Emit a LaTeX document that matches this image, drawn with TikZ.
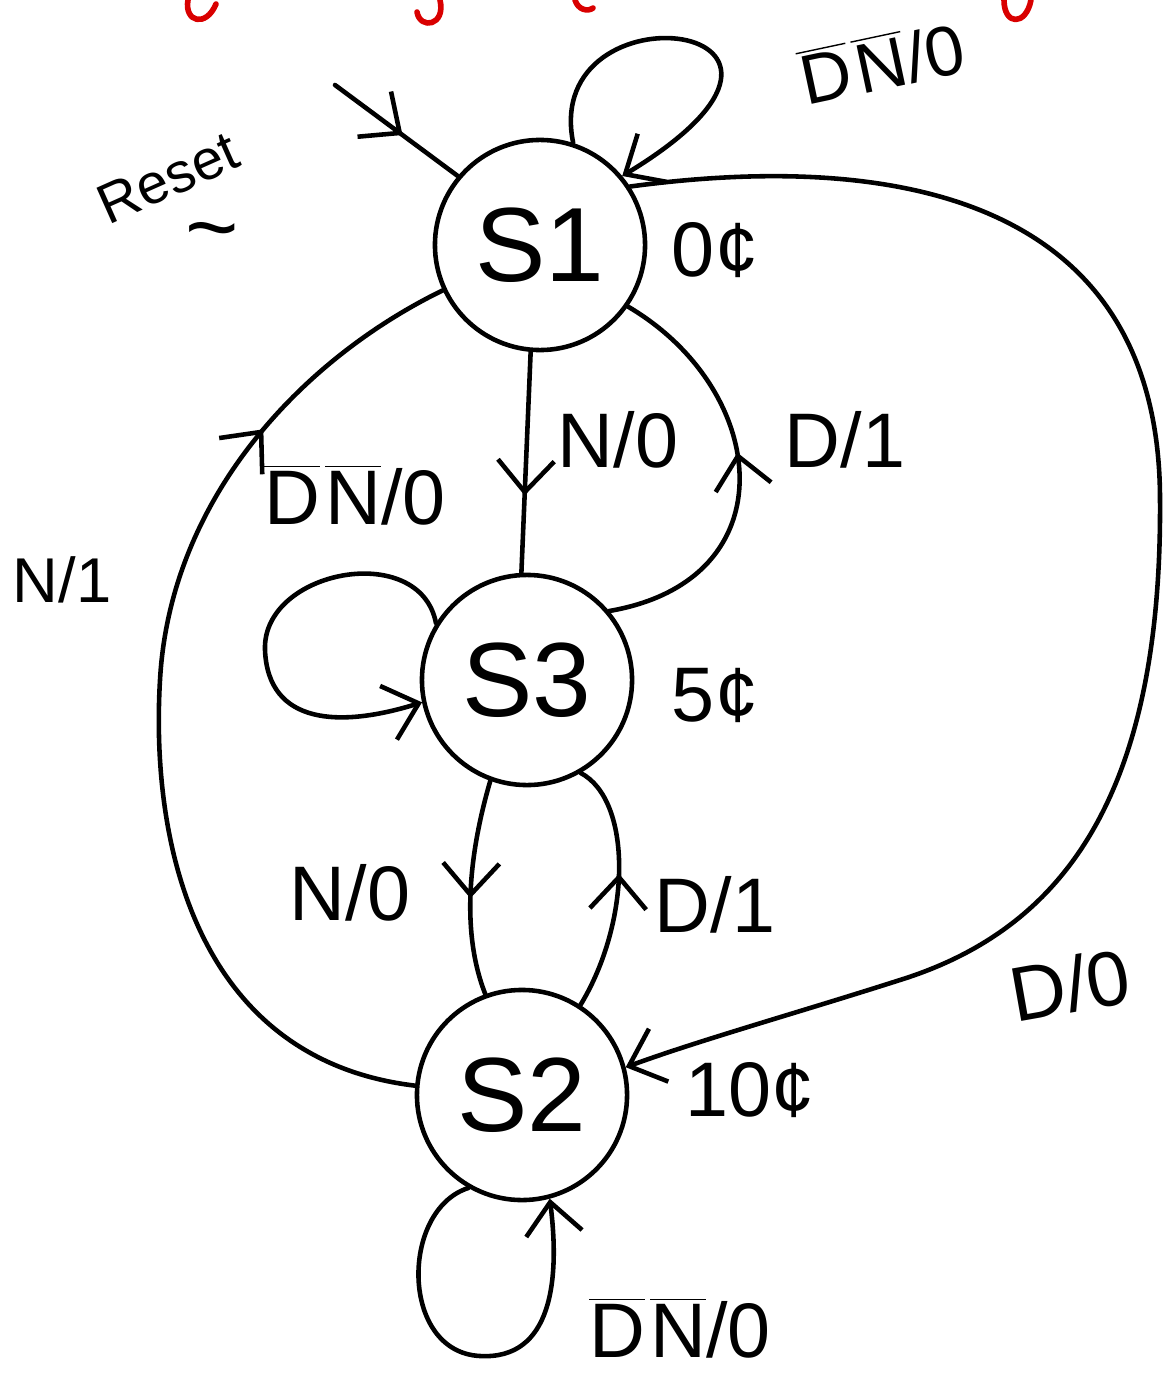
\documentclass[tikz,border=0pt]{standalone}
\usepackage{fontspec}
\setmainfont{Liberation Sans}
\usetikzlibrary{decorations.markings,arrows.meta}
\newcommand\ovl[1]{$\overline{\mbox{#1}}$}
\newcommand\dnbar{\ovl{D}\kern1.5pt\ovl{N}}
\begin{document}
\begin{tikzpicture}[x=0.01cm,y=-0.01cm, line width=1.3pt, line cap=round, line join=round,
  state/.style={circle, draw, line width=1.3pt, minimum size=2.1cm, inner sep=0pt, font=\fontsize{30}{32}\selectfont},
  lbl/.style={font=\fontsize{22}{24}\selectfont, inner sep=1pt},
  tip/.style={-{Straight Barb[length=9pt,width=16pt]}},
  midarrow/.style={postaction={decorate}, decoration={markings, mark=at position #1 with {\arrow{Straight Barb[length=9pt,width=16pt]}}}},
  midarrow/.default=0.5,
  redink/.style={draw=red!85!black, line width=1.6pt}
]
\useasboundingbox (0,0) rectangle (1167,1376);

% cut-off red strokes at the top
\draw[redink] (188,0) .. controls (184,22) and (206,28) .. (216,4);
\draw[redink] (440,0) .. controls (446,26) and (420,30) .. (417,12);
\draw[redink] (575,0) .. controls (578,10) and (588,12) .. (593,8);
\draw[redink] (1004,0) .. controls (1004,26) and (1026,26) .. (1031,0);

% states
\node[state] (s1) at (540,245) {S1};
\node[state] (s3) at (527,680) {S3};
\node[state] (s2) at (522,1095) {S2};

% reset
\coordinate (r0) at (335,85);
\draw[midarrow=0.55] (r0) -- (s1.140);
\node[lbl, rotate=24, font=\fontsize{16}{18}\selectfont] (reset) at (168,178) {Reset};
\node[lbl] (tilde) at (212,240) {\fontsize{26}{26}\selectfont\textasciitilde};

% S1 self loop
\draw[tip] (s1.72) .. controls (540,-20) and (880,20) .. (s1.40);
\node[lbl, rotate=12, font=\fontsize{20}{22}\selectfont] (l11) at (882,62) {\dnbar/0};
\node[lbl] (c0) at (715,250) {0¢};

% S1 -> S3
\draw[midarrow=0.65] (s1.265) -- (s3.93);
\node[lbl] (l13) at (618,440) {N/0};

% S3 -> S1
\draw[midarrow=0.55] (s3.40) .. controls (790,580) and (770,390) .. (s1.-35);
\node[lbl] (l31) at (845,440) {D/1};

% S1 -> S2 big arc
\draw[tip] (s1.33) .. controls (900,150) and (1160,200) .. (1160,500)
  .. controls (1162,800) and (1060,930) .. (900,980)
  .. controls (800,1012) and (700,1040) .. (s2.15);
\node[lbl, rotate=10] (l12) at (1070,985) {D/0};

% S2 -> S1 left arc
\draw[midarrow=0.78] (s2.175) .. controls (200,1060) and (150,850) .. (160,680)
  .. controls (170,500) and (300,360) .. (s1.205);
\node[lbl, font=\fontsize{18}{20}\selectfont] (l21) at (62,580) {N/1};

% S3 self loop
\draw[tip] (s3.148) .. controls (420,540) and (262,570) .. (265,650)
  .. controls (268,725) and (340,728) .. (s3.192);
\node[lbl] (l33) at (355,495) {\dnbar/0};
\node[lbl] (c5) at (715,695) {5¢};

% S3 -> S2
\draw[midarrow=0.55] (s3.250) .. controls (470,850) and (460,930) .. (s2.110);
\node[lbl] (l32) at (350,893) {N/0};

% S2 -> S3
\draw[midarrow=0.55] (s2.57) .. controls (632,920) and (632,800) .. (s3.300);
\node[lbl] (l23) at (715,905) {D/1};
\node[lbl] (c10) at (750,1090) {10¢};

% S2 self loop
\draw[tip] (s2.240) .. controls (400,1210) and (400,1352) .. (480,1356)
  .. controls (552,1360) and (560,1280) .. (s2.285);
\node[lbl] (l22) at (680,1328) {\dnbar/0};
\end{tikzpicture}
\end{document}
